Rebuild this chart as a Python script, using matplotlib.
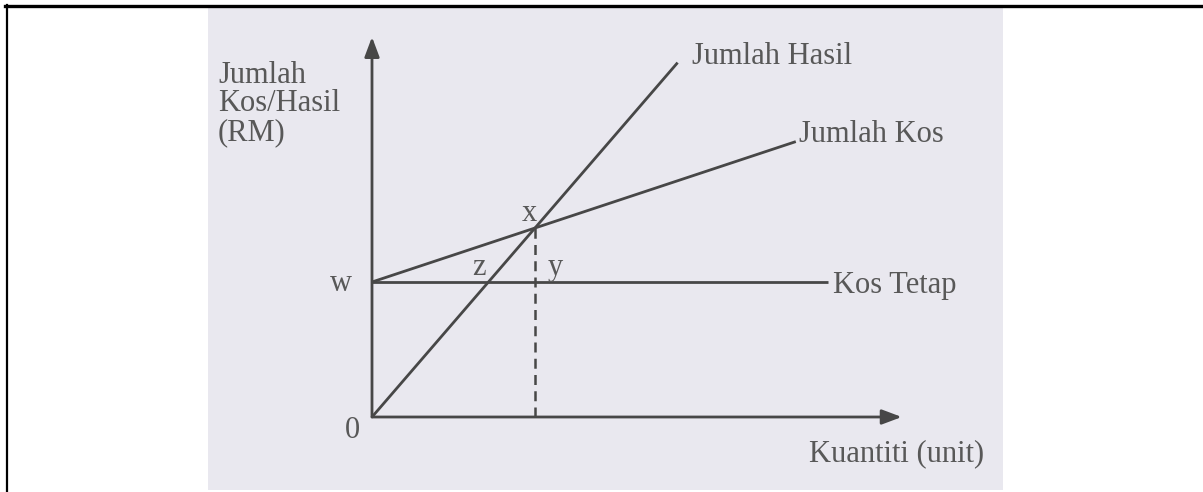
import matplotlib
matplotlib.use("Agg")
import matplotlib.pyplot as plt
from matplotlib.patches import Rectangle
from matplotlib.lines import Line2D

# ---- data (quantity in units, value in RM) ----
revenue_q = [0, 37.5]
revenue_rm = [0, 105.0]
total_cost_q = [0, 52]
total_cost_rm = [40, 81.6]
fixed_cost_q = [0, 56]
fixed_cost_rm = [40, 40]
break_even_q = 20
break_even_rm = 56
x_axis_end = 65
y_axis_end = 112.6

y_label = "Jumlah\nKos/Hasil\n(RM)"
x_label = "Kuantiti (unit)"
revenue_label = "Jumlah Hasil"
cost_label = "Jumlah Kos"
fixed_label = "Kos Tetap"

W, H = 1203, 492
fig = plt.figure(figsize=(W / 100, H / 100), dpi=100)
fig.patch.set_facecolor("white")

# scanned grey region and frame
fig.patches.append(Rectangle((208 / W, 1 - 490 / H), (1003 - 208) / W, (490 - 8) / H,
                             transform=fig.transFigure, facecolor="#e9e8ef",
                             edgecolor="none", zorder=-5))
fig.lines.append(Line2D([5 / W, 1.0], [1 - 6 / H, 1 - 6 / H], transform=fig.transFigure,
                        color="black", lw=2.4, zorder=5))
fig.lines.append(Line2D([6.5 / W, 6.5 / W], [0, 1 - 5 / H], transform=fig.transFigure,
                        color="black", lw=1.6, zorder=5))

ax = fig.add_axes([0, 0, 1, 1])
ax.set_zorder(1)
ax.patch.set_visible(False)
ax.axis("off")
ox, oy = 372, 417          # origin pixel position
sx, sy = 8.15, 3.375       # pixels per unit
ax.set_xlim(-ox / sx, (W - ox) / sx)
ax.set_ylim(-(H - oy) / sy, oy / sy)

line_c = "#474747"
text_c = "#585858"
font = dict(family="Liberation Serif", color=text_c, fontsize=22)

# axes arrows
arrow = dict(arrowstyle="-|>,head_length=0.8,head_width=0.3", color=line_c, lw=2.0,
             shrinkA=0, shrinkB=0, mutation_scale=15)
ax.annotate("", xy=(0, y_axis_end), xytext=(0, 0), arrowprops=arrow)
ax.annotate("", xy=(x_axis_end, 0), xytext=(0, 0), arrowprops=arrow)

# lines
ax.plot(revenue_q, revenue_rm, color=line_c, lw=2.0, solid_capstyle="butt")
ax.plot(total_cost_q, total_cost_rm, color=line_c, lw=2.0, solid_capstyle="butt")
ax.plot(fixed_cost_q, fixed_cost_rm, color=line_c, lw=2.0, solid_capstyle="butt")
ax.plot([break_even_q, break_even_q], [0, break_even_rm], color=line_c, lw=1.8,
        linestyle=(0, (4, 2.5)))

# labels
ax.text(-18.9, 105.6, y_label, ha="left", va="top", linespacing=0.98, **font)
ax.text(39.3, 104.6, revenue_label, ha="left", va="baseline", **font)
ax.text(52.4, 81.5, cost_label, ha="left", va="baseline", **font)
ax.text(56.6, 36.7, fixed_label, ha="left", va="baseline", **font)
ax.text(53.6, -13.2, x_label, ha="left", va="baseline", **font)
ax.text(-2.45, -6.2, "0", ha="center", va="baseline", **font)
ax.text(-3.8, 37.3, "w", ha="center", va="baseline", **font)
ax.text(13.1, 42.1, "z", ha="center", va="baseline", **font)
ax.text(22.5, 42.1, "y", ha="center", va="baseline", **font)
ax.text(19.3, 58.1, "x", ha="center", va="baseline", **font)

fig.savefig("out.png", dpi=100, facecolor="white")
